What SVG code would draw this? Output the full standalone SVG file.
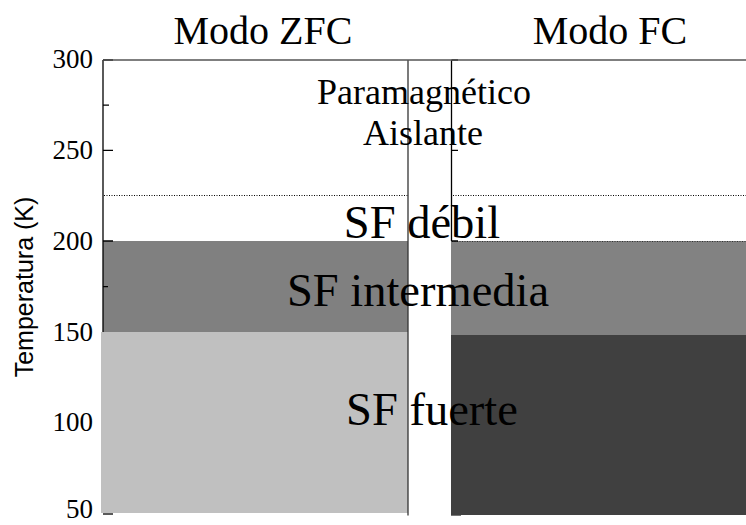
<svg xmlns="http://www.w3.org/2000/svg" width="746" height="525" viewBox="0 0 746 525">
  <style>
    .serif { font-family: "Liberation Serif", "Times New Roman", serif; fill: #000; }
    .tick { font-size: 27px; text-anchor: end; }
    .title { font-size: 40px; text-anchor: middle; }
    .lbl { font-size: 46.5px; text-anchor: middle; }
    .small { font-size: 36px; text-anchor: middle; }
    .axis { stroke: #000; stroke-width: 1.3; fill: none; }
    .dot { stroke: #000; stroke-width: 1; stroke-dasharray: 1 1.5; fill: none; }
  </style>
  <rect width="746" height="525" fill="#fff"/>

  <g id="titles">
    <text class="serif title" x="263" y="44">Modo ZFC</text>
    <text class="serif title" x="610" y="44">Modo FC</text>
  </g>

  <g id="y-axis">
    <text x="33" y="287" transform="rotate(-90 33 287)" font-family="'Liberation Sans', Arial, sans-serif" font-size="25" text-anchor="middle" fill="#000">Temperatura (K)</text>
    <text class="serif tick" x="93" y="68">300</text>
    <text class="serif tick" x="93" y="159">250</text>
    <text class="serif tick" x="93" y="250">200</text>
    <text class="serif tick" x="93" y="341">150</text>
    <text class="serif tick" x="93" y="431">100</text>
    <text class="serif tick" x="93" y="518">50</text>
  </g>

  <g id="zfc-panel">
    <rect x="103" y="241" width="305" height="91" fill="#808080"/>
    <line class="axis" x1="103" y1="60" x2="103" y2="332"/>
    <path class="axis" d="M103 60H113M103 105.2H109M103 150.3H113M103 286.6H108M103 241H113"/>
    <line class="dot" x1="104" y1="195.5" x2="408" y2="195.5"/>
    <rect x="101" y="332" width="307" height="181" fill="#c0c0c0"/>
    <line class="axis" x1="103" y1="514" x2="113" y2="514"/>
    <line x1="408" y1="60" x2="408" y2="515.5" stroke="#333" stroke-width="1.3"/>
  </g>

  <g id="fc-panel">
    <rect x="451" y="241" width="295" height="94" fill="#828282"/>
    <rect x="451" y="335" width="295" height="180" fill="#404040"/>
    <line x1="452" y1="241.5" x2="746" y2="241.5" stroke="#333" stroke-width="1" stroke-dasharray="1 1.5"/>
    <line class="axis" x1="451.5" y1="60" x2="451.5" y2="241"/>
    <path class="axis" d="M451.5 60H458M451.5 150.3H458M451.5 241H458"/>
    <line class="dot" x1="453" y1="195.5" x2="746" y2="195.5"/>
    <line x1="451" y1="515.5" x2="461" y2="515.5" stroke="#777" stroke-width="1"/>
  </g>

  <g id="top-line">
    <line x1="103" y1="60" x2="746" y2="60" stroke="#555" stroke-width="1.5"/>
  </g>

  <g id="labels">
    <text class="serif small" x="424" y="104">Paramagnético</text>
    <text class="serif small" x="423" y="145">Aislante</text>
    <text class="serif lbl" x="422" y="238">SF débil</text>
    <text class="serif lbl" x="418" y="306">SF intermedia</text>
    <text class="serif lbl" x="432" y="425">SF fuerte</text>
  </g>
</svg>
